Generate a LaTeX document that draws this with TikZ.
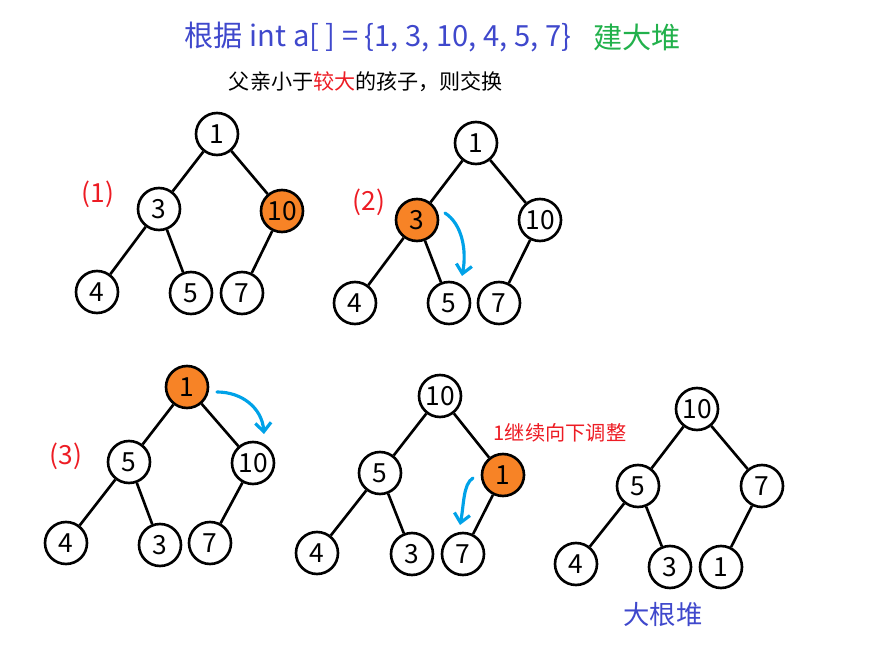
\documentclass[tikz,border=0pt]{standalone}
\usepackage{fontspec}
\setmainfont{Noto Sans CJK SC}
\usepackage{tikz}
\usetikzlibrary{arrows.meta}
\definecolor{titleblue}{RGB}{63,72,204}
\definecolor{heapgreen}{RGB}{34,177,76}
\definecolor{stepred}{RGB}{237,28,36}
\definecolor{swaporange}{RGB}{247,131,38}
\definecolor{arrowblue}{RGB}{0,162,232}
\tikzset{>={Straight Barb[length=5pt,width=9pt]}}
\tikzset{heapkey/.style={circle, draw, fill=white, line width=1.5pt,
  minimum size=0.84cm, inner sep=0pt, font=\fontsize{15}{15}\selectfont}}
\tikzset{swapkey/.style={heapkey, fill=swaporange}}
\tikzset{heapedge/.style={line width=1.5pt}}
\tikzset{swapmove/.style={->, arrowblue, line width=1.8pt, line cap=round}}
\tikzset{steplabel/.style={stepred, font=\fontsize{15}{15}\selectfont}}

\begin{document}
\begin{tikzpicture}[x=0.02cm, y=-0.02cm]
  \useasboundingbox (0,0) rectangle (886,655);

  % title lines
  \node[titleblue, font=\fontsize{16.6}{16.6}\selectfont] (title) at (378,37) {根据 int a[ ] = \{1, 3, 10, 4, 5, 7\}};
  \node[heapgreen, font=\fontsize{16.6}{16.6}\selectfont] (goal) at (637,37) {建大堆};
  \node[font=\fontsize{12}{12}\selectfont] (rule) at (366,82) {父亲小于\textcolor{stepred}{较大}的孩子，则交换};

  % (1)
  \node[steplabel] (s1) at (98,194) {(1)};
  \node[heapkey] (a1) at (217,134) {1};
  \node[heapkey] (a3) at (159,209) {3};
  \node[swapkey] (a10) at (282,211) {10};
  \node[heapkey] (a4) at (97,292) {4};
  \node[heapkey] (a5) at (191,293) {5};
  \node[heapkey] (a7) at (242,293) {7};
  \draw[heapedge] (a1) -- (a3) (a1) -- (a10) (a3) -- (a4) (a3) -- (a5) (a10) -- (a7);

  % (2)
  \node[steplabel] (s2) at (369,202) {(2)};
  \node[heapkey] (b1) at (476,143) {1};
  \node[swapkey] (b3) at (417,220) {3};
  \node[heapkey] (b10) at (540,220) {10};
  \node[heapkey] (b4) at (355,303) {4};
  \node[heapkey] (b5) at (449,303) {5};
  \node[heapkey] (b7) at (499,303) {7};
  \draw[heapedge] (b1) -- (b3) (b1) -- (b10) (b3) -- (b4) (b3) -- (b5) (b10) -- (b7);
  \coordinate (b-from) at (445,213);
  \coordinate (b-to) at (462,276);
  \draw[swapmove] (b-from) .. controls (462,224) and (467,250) .. (b-to);

  % (3)
  \node[steplabel] (s3) at (66,456) {(3)};
  \node[swapkey] (c1) at (187,387) {1};
  \node[heapkey] (c5) at (129,462) {5};
  \node[heapkey] (c10) at (253,463) {10};
  \node[heapkey] (c4) at (66,543) {4};
  \node[heapkey] (c3) at (160,545) {3};
  \node[heapkey] (c7) at (210,543) {7};
  \draw[heapedge] (c1) -- (c5) (c1) -- (c10) (c5) -- (c4) (c5) -- (c3) (c10) -- (c7);
  \coordinate (c-from) at (217,392);
  \coordinate (c-to) at (264,434);
  \draw[swapmove] (c-from) .. controls (242,392) and (262,408) .. (c-to);

  % 1 sinks further
  \node[heapkey] (d10) at (440,396) {10};
  \node[heapkey] (d5) at (380,473) {5};
  \node[swapkey] (d1) at (503,475) {1};
  \node[heapkey] (d4) at (317,553) {4};
  \node[heapkey] (d3) at (412,554) {3};
  \node[heapkey] (d7) at (463,554) {7};
  \draw[heapedge] (d10) -- (d5) (d10) -- (d1) (d5) -- (d4) (d5) -- (d3) (d1) -- (d7);
  \node[stepred, font=\fontsize{11.5}{11.5}\selectfont] (d-note) at (560,433) {1继续向下调整};
  \coordinate (d-from) at (473,478);
  \coordinate (d-to) at (460,525);
  \draw[swapmove] (d-from) .. controls (463,484) and (464,505) .. (d-to);

  % result
  \node[heapkey] (e10) at (697,409) {10};
  \node[heapkey] (e5) at (638,486) {5};
  \node[heapkey] (e7) at (762,486) {7};
  \node[heapkey] (e4) at (576,564) {4};
  \node[heapkey] (e3) at (670,567) {3};
  \node[heapkey] (e1) at (721,567) {1};
  \draw[heapedge] (e10) -- (e5) (e10) -- (e7) (e5) -- (e4) (e5) -- (e3) (e7) -- (e1);
  \node[titleblue, font=\fontsize{15}{15}\selectfont] (result) at (663,614) {大根堆};
\end{tikzpicture}
\end{document}
